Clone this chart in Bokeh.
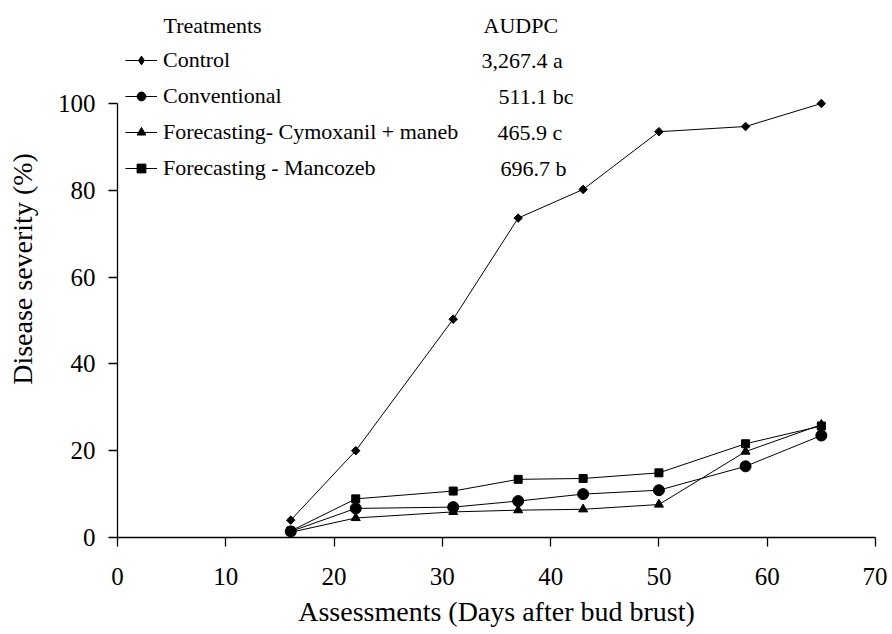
import math
from bokeh.plotting import figure
from bokeh.models import Legend, LegendItem, Label, Range1d, FixedTicker
from bokeh.embed import file_html
from bokeh.resources import INLINE

# ---- data ----
days = [16, 22, 31, 37, 43, 50, 58, 65]
control = [4.0, 20.0, 50.3, 73.6, 80.2, 93.5, 94.7, 100.0]
conventional = [1.4, 6.7, 7.0, 8.4, 10.0, 10.9, 16.4, 23.5]
cymoxanil = [1.2, 4.5, 5.9, 6.3, 6.5, 7.6, 19.8, 26.0]
mancozeb = [1.5, 8.9, 10.7, 13.4, 13.6, 14.9, 21.6, 25.7]

treatments = ["Control", "Conventional", "Forecasting- Cymoxanil + maneb", "Forecasting - Mancozeb"]
audpc = ["3,267.4 a", "511.1 bc", "465.9 c", "696.7 b"]
x_ticks = [0, 10, 20, 30, 40, 50, 60, 70]
y_ticks = [0, 20, 40, 60, 80, 100]

FONT = "Liberation Serif"

# frame spans the full top area so the legend / header texts are not clipped;
# the y axis itself is bounded to 0..100
FRAME_H = 537
PX_PER_UNIT = 4.34
p = figure(frame_width=758, frame_height=FRAME_H,
           x_range=Range1d(0, 70), y_range=Range1d(0, FRAME_H / PX_PER_UNIT),
           output_backend="svg", toolbar_location=None,
           min_border_left=117, min_border_top=0, min_border_right=12, min_border_bottom=90)
p.outline_line_color = None
p.grid.visible = False
p.background_fill_color = "white"
p.border_fill_color = "white"

for ax in (p.xaxis[0], p.yaxis[0]):
    ax.axis_line_color = "black"
    ax.axis_line_width = 1.3
    ax.major_tick_line_color = "black"
    ax.major_tick_line_width = 1.3
    ax.major_tick_in = 0
    ax.major_tick_out = 9
    ax.minor_tick_line_color = None
    ax.major_label_text_font = FONT
    ax.major_label_text_font_size = "25px"
    ax.major_label_text_color = "black"
    ax.axis_label_text_font = FONT
    ax.axis_label_text_font_size = "28px"
    ax.axis_label_text_font_style = "normal"
    ax.axis_label_text_color = "black"

p.xaxis.ticker = FixedTicker(ticks=x_ticks)
p.yaxis.ticker = FixedTicker(ticks=y_ticks)
p.yaxis.bounds = (0, 100)
p.xaxis.axis_label = "Assessments (Days after bud brust)"
p.yaxis.axis_label = "Disease severity (%)"
p.xaxis.major_label_standoff = 21
p.yaxis.major_label_standoff = 13
p.xaxis.axis_label_standoff = 8
p.yaxis.axis_label_standoff = 17

series = [control, conventional, cymoxanil, mancozeb]
markers = ["square", "circle", "triangle", "square"]
legend_markers = ["diamond", "circle", "triangle", "square"]
sizes = [6, 11, 9, 8]
angles = [math.pi / 4, 0, 0, 0]

items = []
for name, ys, mk, lmk, sz, ang in zip(treatments, series, markers, legend_markers, sizes, angles):
    ln = p.line(days, ys, line_color="black", line_width=1)
    renderers = [ln]
    if lmk != mk:
        # diamond key for the legend; drawn underneath (and hidden by) the rotated squares
        sw = p.scatter(days, ys, marker=lmk, size=7, fill_color="black", line_color="black")
        renderers.append(sw)
    sc = p.scatter(days, ys, marker=mk, size=sz, angle=ang,
                   fill_color="black", line_color="black")
    if lmk == mk:
        renderers.append(sc)
    items.append(LegendItem(label=name, renderers=renderers))

# location = bottom-left corner of the legend, relative to the frame
legend = Legend(items=items, location=(8, 354), padding=0, margin=0,
                spacing=6, label_height=30, glyph_height=22, glyph_width=32,
                label_standoff=6, border_line_color=None, background_fill_alpha=0,
                label_text_font=FONT, label_text_font_size="22px",
                label_text_color="black")
p.add_layout(legend)

# header texts and AUDPC column (screen units, relative to the frame's bottom-left)
p.add_layout(Label(x=46, y=512, x_units="screen", y_units="screen", text="Treatments",
                   text_font=FONT, text_font_size="22px", text_baseline="middle",
                   text_color="black"))
p.add_layout(Label(x=366, y=512, x_units="screen", y_units="screen", text="AUDPC",
                   text_font=FONT, text_font_size="22px", text_baseline="middle",
                   text_color="black"))
x_offsets = [364, 381, 380, 383]
for i, (txt, xo) in enumerate(zip(audpc, x_offsets)):
    p.add_layout(Label(x=xo, y=477 - 36 * i, x_units="screen", y_units="screen", text=txt,
                       text_font=FONT, text_font_size="22px", text_baseline="middle",
                       text_color="black"))

open("out.html", "w").write(file_html(p, INLINE))
